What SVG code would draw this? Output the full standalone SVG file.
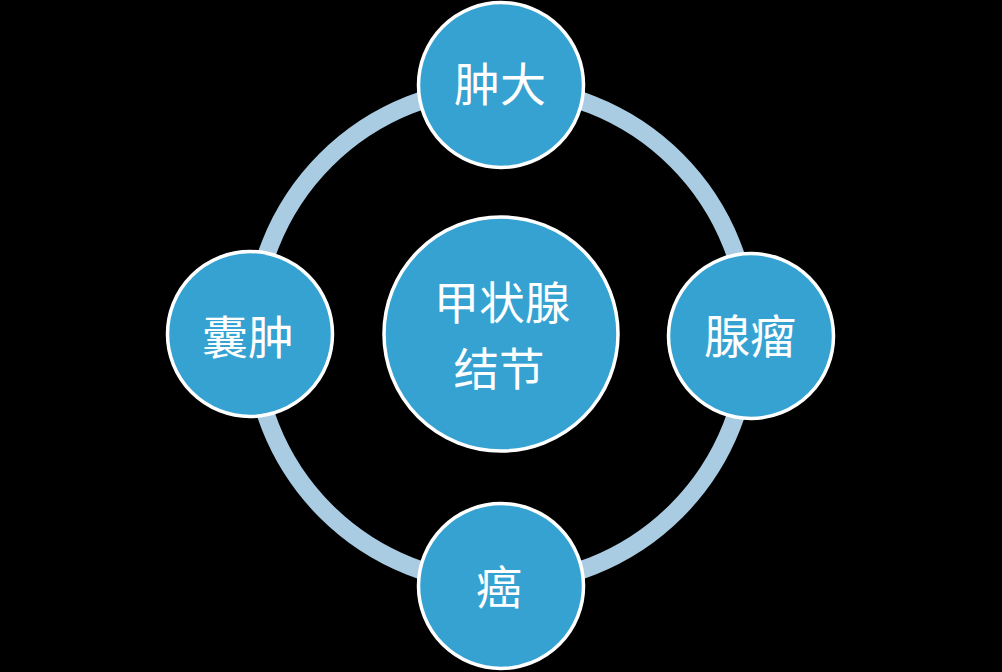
<svg xmlns="http://www.w3.org/2000/svg" width="1002" height="672" viewBox="0 0 1002 672">
  <defs>
    <style>
      .ring { fill: none; stroke: #A9CCE3; stroke-width: 18; }
      .node { fill: #35A2D2; stroke: #FFFFFF; stroke-width: 3.5; }
      .label { fill: #FFFFFF; font-family: "Noto Sans CJK SC", "Noto Sans CJK TC", sans-serif; text-anchor: middle; dominant-baseline: central; }
      .outer { font-size: 46px; }
      .center { font-size: 45.5px; }
    </style>
  </defs>
  <rect x="0" y="0" width="1002" height="672" fill="#000000"/>
  <g id="connectors">
    <circle class="ring" cx="501" cy="335.5" r="248"/>
  </g>
  <g id="node-center">
    <circle class="node" cx="501" cy="334" r="117"/>
    <text class="label center" x="502" y="300">甲状腺</text>
    <text class="label center" x="499" y="366">结节</text>
  </g>
  <g id="node-top">
    <circle class="node" cx="501" cy="85" r="82.5"/>
    <text class="label outer" x="500" y="81">肿大</text>
  </g>
  <g id="node-right">
    <circle class="node" cx="751" cy="336" r="82.5"/>
    <text class="label outer" x="750" y="332.5">腺瘤</text>
  </g>
  <g id="node-bottom">
    <circle class="node" cx="501" cy="586" r="82.5"/>
    <text class="label outer" x="499" y="583.5">癌</text>
  </g>
  <g id="node-left">
    <circle class="node" cx="250" cy="334" r="82.5"/>
    <text class="label outer" x="248" y="333.5">囊肿</text>
  </g>
</svg>
